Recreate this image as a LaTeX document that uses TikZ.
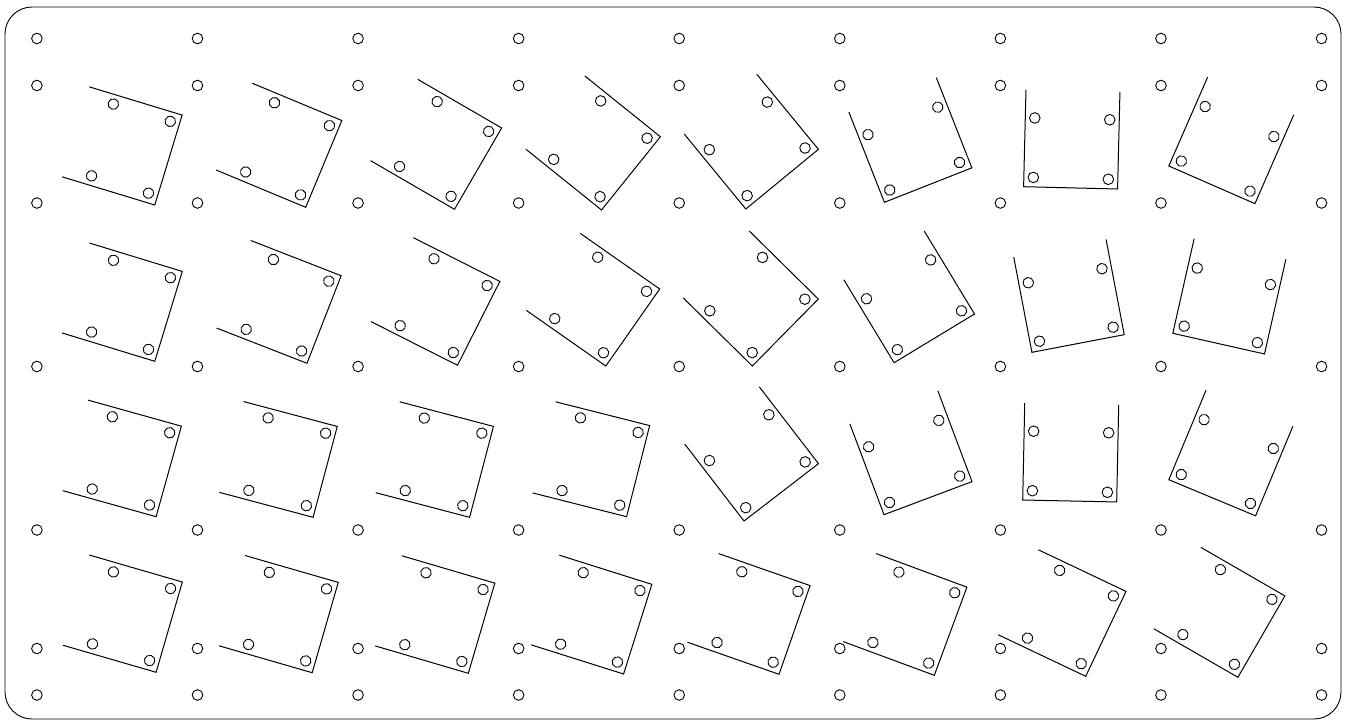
\documentclass[tikz,border=0pt]{standalone}
\usepackage{tikz}

\tikzset{
    hole/.style={draw, line width=0.9pt},
    bracketline/.style={draw, line width=1pt},
    bracket/.pic={
        \draw[bracketline] (0,-97) -- (0,0) -- (94,0) -- (94,-97);
        \foreach \hx/\hy in {9.5/-9.5, 84.5/-9.5, 9.5/-69, 84.5/-69}
            \draw[hole] (\hx,\hy) circle[radius=5.3];
    }
}

\begin{document}
\begin{tikzpicture}[x=1pt, y=-1pt]
\useasboundingbox (0,0) rectangle (1346,723);
\draw[line width=0.9pt, rounded corners=27pt] (5,7) rectangle (1341,719);

\foreach \gx in {0,...,8}
    \foreach \gy in {38.5,85.5,203,366.5,530,648.5,695}
        \draw[hole] (36.9+160.58*\gx,\gy) circle[radius=5.3];

\foreach \bx/\by/\ba in {
    154.8/205/73.1, 305.7/207.3/67.4, 454.5/209.3/59.9, 601.5/210/51.2,
    745.8/209/39.4, 884.4/202.3/21.5, 1023.6/186.7/-1.4, 1168.8/166/-23.6,
    154.8/361.3/73.0, 307/363.3/68.7, 457.5/365.3/63.2, 605.8/366/55.0,
    752.3/366/45.4, 894.1/362.7/31.2, 1031.9/352.3/10.8, 1172.8/333.3/-12.7,
    156.1/516.7/74.4, 313.1/517.3/75.1, 469.6/517.3/75.3, 626.6/516.7/75.8,
    744/521/37.6, 884/514.7/20.6, 1022.7/500/-1.2, 1168.8/479.7/-22.6,
    156.1/672.3/73.8, 312.2/672.7/73.9, 468.3/673.3/73.6, 623.6/674/72.5,
    779/674.3/70.7, 934.3/675.3/69.7, 1085.7/676.3/64.6, 1237.9/677.3/60.0}
    \pic[rotate=\ba] at (\bx,\by) {bracket};
\end{tikzpicture}
\end{document}
